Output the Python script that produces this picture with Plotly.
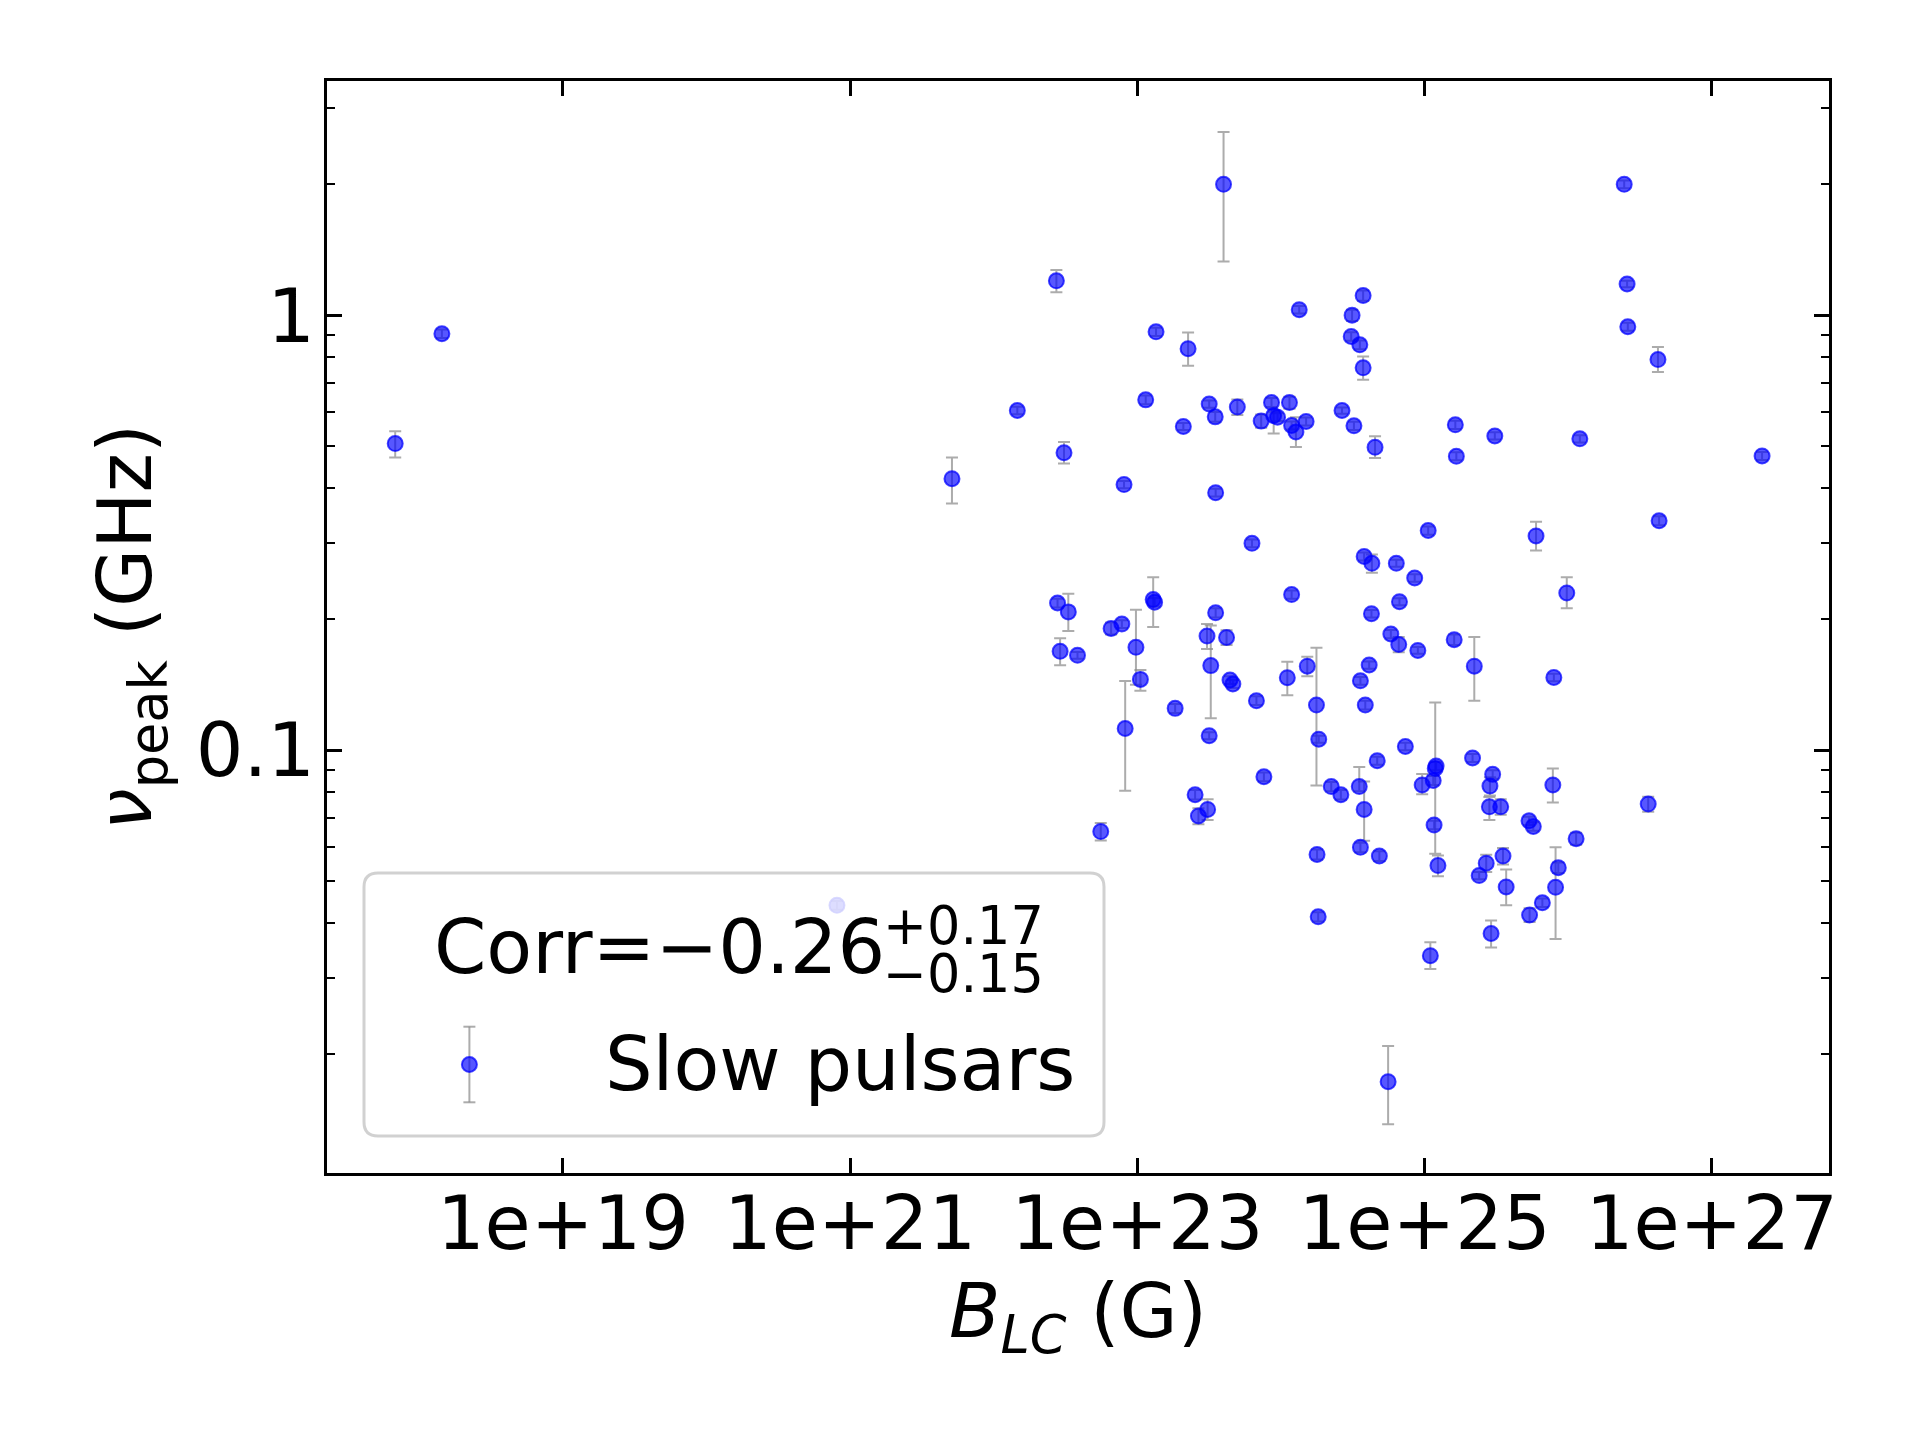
import numpy as np
import plotly.graph_objects as go

# ---------------- data ----------------
log_B_LC = [
    17.832, 18.157, 21.709, 20.908,
    23.60, 26.39, 22.436, 26.41, 24.572, 24.127, 24.495, 23.13, 23.353, 24.489,
    24.549, 24.572, 26.415, 26.625, 22.164, 23.058, 23.50, 23.542, 23.32, 23.696,
    23.934, 24.059, 23.862, 23.949, 23.976, 24.074, 24.104, 24.175, 24.425, 24.508,
    24.655, 25.214, 25.221, 25.489, 26.081, 27.35, 22.907, 23.545, 23.798, 25.025,
    25.776, 26.633, 22.489,
    24.579, 24.633, 24.803, 24.931, 24.074, 25.99, 22.444, 22.519, 23.11, 23.12,
    23.545, 24.63, 22.817, 22.892, 23.485, 23.511, 23.621, 22.99, 23.021, 22.462,
    22.583, 22.915, 22.745, 23.263, 23.50, 23.645, 23.665, 23.829, 24.044, 24.183,
    24.247, 24.263, 23.881, 24.553, 24.614, 24.587, 24.765, 24.82, 24.825, 24.953,
    25.206, 25.346, 25.90, 24.866, 24.67, 25.334, 25.474, 25.455, 25.451, 25.53,
    25.893, 25.074, 25.08, 25.06, 24.983, 25.066, 25.093, 25.04, 24.35, 24.417,
    24.545, 24.579, 24.553, 24.685, 24.251, 24.259, 24.746, 23.402, 23.425, 23.489,
    25.727, 25.757, 26.055, 26.557, 25.546, 25.429, 25.38, 25.568, 25.931, 25.912,
    25.82, 25.731, 25.463,
]

nu_peak_GHz = [
    0.507, 0.907, 0.421, 0.044,
    2.0, 2.0, 1.20, 1.18, 1.11, 1.03, 1.00, 0.916, 0.838, 0.894,
    0.855, 0.757, 0.941, 0.791, 0.604, 0.639, 0.625, 0.584, 0.555, 0.615,
    0.630, 0.630, 0.571, 0.588, 0.583, 0.558, 0.539, 0.570, 0.604, 0.557,
    0.497, 0.560, 0.474, 0.528, 0.520, 0.475, 0.408, 0.391, 0.299, 0.320,
    0.311, 0.337, 0.483,
    0.279, 0.269, 0.269, 0.249, 0.228, 0.230, 0.218, 0.208, 0.222, 0.219,
    0.207, 0.206, 0.1905, 0.195, 0.183, 0.1565, 0.1816, 0.1724, 0.1455, 0.1688,
    0.1653, 0.1122, 0.0650, 0.1248, 0.108, 0.145, 0.142, 0.130, 0.1468, 0.156,
    0.127, 0.106, 0.0869, 0.1444, 0.157, 0.127, 0.185, 0.175, 0.2195, 0.1696,
    0.1795, 0.156, 0.147, 0.102, 0.0946, 0.096, 0.088, 0.0827, 0.0741, 0.0741,
    0.0832, 0.0908, 0.0920, 0.0852, 0.0832, 0.0673, 0.0543, 0.0337, 0.0825, 0.079,
    0.0825, 0.0731, 0.0598, 0.0571, 0.0576, 0.0414, 0.0173, 0.079, 0.0706, 0.0731,
    0.0688, 0.0668, 0.0626, 0.0752, 0.0571, 0.055, 0.0515, 0.0485, 0.0537, 0.0484,
    0.0446, 0.0418, 0.0379,
]

err_plus = [
    0.034, 0.02, 0.05, 0.001,
    0.64, 0.04, 0.07, 0.02, 0.03, 0.02, 0.03, 0.02, 0.075, 0.02,
    0.02, 0.047, 0.02, 0.054, 0.012, 0.015, 0.012, 0.015, 0.01, 0.025,
    0.015, 0.02, 0.02, 0.012, 0.012, 0.012, 0.044, 0.012, 0.01, 0.012,
    0.03, 0.012, 0.01, 0.01, 0.01, 0.01, 0.008, 0.008, 0.006, 0.007,
    0.024, 0.008, 0.028,
    0.006, 0.013, 0.005, 0.005, 0.005, 0.02, 0.005, 0.021, 0.028, 0.005,
    0.005, 0.004, 0.006, 0.004, 0.012, 0.037, 0.007, 0.038, 0.0075, 0.012,
    0.003, 0.032, 0.003, 0.003, 0.002, 0.003, 0.003, 0.003, 0.013, 0.008,
    0.045, 0.002, 0.002, 0.003, 0.003, 0.003, 0.004, 0.007, 0.004, 0.003,
    0.005, 0.026, 0.003, 0.002, 0.002, 0.002, 0.002, 0.004, 0.004, 0.003,
    0.0076, 0.038, 0.002, 0.002, 0.005, 0.0015, 0.003, 0.0025, 0.002, 0.002,
    0.009, 0.0116, 0.0015, 0.0015, 0.0015, 0.001, 0.0036, 0.002, 0.003, 0.004,
    0.0015, 0.0015, 0.002, 0.003, 0.0025, 0.0025, 0.001, 0.0047, 0.0015, 0.0114,
    0.001, 0.0015, 0.0027,
]

err_minus = [
    0.036, 0.02, 0.052, 0.001,
    0.67, 0.04, 0.07, 0.02, 0.03, 0.02, 0.03, 0.02, 0.073, 0.02,
    0.02, 0.046, 0.02, 0.05, 0.012, 0.015, 0.012, 0.015, 0.01, 0.025,
    0.015, 0.02, 0.02, 0.053, 0.012, 0.012, 0.041, 0.012, 0.01, 0.012,
    0.027, 0.012, 0.01, 0.01, 0.01, 0.01, 0.008, 0.008, 0.006, 0.007,
    0.023, 0.008, 0.027,
    0.006, 0.013, 0.005, 0.005, 0.005, 0.018, 0.005, 0.02, 0.03, 0.005,
    0.005, 0.004, 0.006, 0.004, 0.012, 0.038, 0.007, 0.031, 0.0085, 0.012,
    0.003, 0.0315, 0.003, 0.003, 0.002, 0.003, 0.003, 0.003, 0.013, 0.008,
    0.044, 0.002, 0.002, 0.003, 0.003, 0.003, 0.004, 0.007, 0.004, 0.003,
    0.005, 0.026, 0.003, 0.002, 0.002, 0.002, 0.002, 0.004, 0.005, 0.003,
    0.0074, 0.033, 0.002, 0.002, 0.004, 0.0015, 0.003, 0.0023, 0.002, 0.002,
    0.002, 0.0112, 0.0015, 0.0015, 0.0015, 0.001, 0.0035, 0.002, 0.003, 0.004,
    0.0015, 0.0015, 0.002, 0.003, 0.0025, 0.0025, 0.001, 0.0045, 0.0015, 0.0116,
    0.001, 0.0015, 0.0027,
]

x_tick_vals = [1e19, 1e21, 1e23, 1e25, 1e27]
x_tick_text = ["1e+19", "1e+21", "1e+23", "1e+25", "1e+27"]
y_tick_vals = [0.1, 1]
y_tick_text = ["0.1", "1"]
y_minor_vals = [0.02, 0.03, 0.04, 0.05, 0.06, 0.07, 0.08, 0.09,
                0.2, 0.3, 0.4, 0.5, 0.6, 0.7, 0.8, 0.9, 2, 3]

corr_text = "Corr=\u22120.26"
corr_up = "+0.17"
corr_down = "\u22120.15"
series_name = "Slow pulsars"

# ---------------- figure ----------------
W, H = 1920, 1440
L, R, T, B = 327, 1829, 81, 1173
FONT = "DejaVu Sans"
FS = 75
MARK_FILL = "rgba(0,0,255,0.66)"
MARK_EDGE = "rgba(0,0,255,0.72)"
ERR_COL = "rgba(140,140,140,0.72)"

B_vals = 10 ** np.array(log_B_LC)

fig = go.Figure()
fig.add_trace(go.Scatter(
    x=B_vals, y=nu_peak_GHz, mode="markers", name=series_name,
    marker=dict(size=15, color=MARK_FILL, line=dict(color=MARK_EDGE, width=2)),
    error_y=dict(type="data", symmetric=False, array=err_plus,
                 arrayminus=err_minus, color=ERR_COL, thickness=2, width=6),
    showlegend=False,
))


def pxx(x):
    return (x - L) / (R - L)


def pyy(y):
    return (B - y) / (B - T)


# legend box (rounded, semi-transparent)
lx0, lx1, ly0, ly1, rad = 364, 1104, 873, 1136, 14
rx = rad / (R - L)
ry = rad / (B - T)
X0, X1, Y0, Y1 = pxx(lx0), pxx(lx1), pyy(ly1), pyy(ly0)
path = (f"M {X0+rx},{Y0} L {X1-rx},{Y0} Q {X1},{Y0} {X1},{Y0+ry} "
        f"L {X1},{Y1-ry} Q {X1},{Y1} {X1-rx},{Y1} "
        f"L {X0+rx},{Y1} Q {X0},{Y1} {X0},{Y1-ry} "
        f"L {X0},{Y0+ry} Q {X0},{Y0} {X0+rx},{Y0} Z")
shapes = [dict(type="path", path=path, xref="paper", yref="paper",
               fillcolor="rgba(255,255,255,0.8)",
               line=dict(color="rgba(204,204,204,0.9)", width=3),
               layer="above")]

# legend glyph: error bar + marker
gx, gy, gtop, gbot, cap = 469.4, 1064.5, 1026.7, 1102.3, 6
shapes.append(dict(type="line", xref="paper", yref="paper",
                   x0=pxx(gx), x1=pxx(gx), y0=pyy(gtop), y1=pyy(gbot),
                   line=dict(color=ERR_COL, width=2), layer="above"))
for yy in (gtop, gbot):
    shapes.append(dict(type="line", xref="paper", yref="paper",
                       x0=pxx(gx - cap), x1=pxx(gx + cap), y0=pyy(yy), y1=pyy(yy),
                       line=dict(color=ERR_COL, width=2), layer="above"))
rr = 7.5
shapes.append(dict(type="circle", xref="paper", yref="paper",
                   x0=pxx(gx - rr), x1=pxx(gx + rr), y0=pyy(gy + rr), y1=pyy(gy - rr),
                   fillcolor=MARK_FILL, line=dict(color=MARK_EDGE, width=2),
                   layer="above"))

asc = 0.346
annotations = [
    dict(text=corr_text, x=pxx(432), y=pyy(973.3 - asc * FS), xref="paper", yref="paper",
         xanchor="left", yanchor="middle", showarrow=False,
         font=dict(family=FONT, size=FS, color="black")),
    dict(text=corr_up, x=pxx(881), y=pyy(943.3 - asc * 52.5), xref="paper", yref="paper",
         xanchor="left", yanchor="middle", showarrow=False,
         font=dict(family=FONT, size=52.5, color="black")),
    dict(text=corr_down, x=pxx(881), y=pyy(991.7 - asc * 52.5), xref="paper", yref="paper",
         xanchor="left", yanchor="middle", showarrow=False,
         font=dict(family=FONT, size=52.5, color="black")),
    dict(text=series_name, x=pxx(602.5), y=pyy(1090 - asc * FS), xref="paper", yref="paper",
         xanchor="left", yanchor="middle", showarrow=False,
         font=dict(family=FONT, size=FS, color="black")),
]

axis_common = dict(
    showline=True, linecolor="black", linewidth=3, mirror="ticks",
    ticks="inside", tickcolor="black", tickwidth=2.5, ticklen=15,
    showgrid=False, zeroline=False,
    tickfont=dict(family=FONT, size=FS, color="black"),
)

fig.update_layout(
    width=W, height=H,
    margin=dict(l=L, r=W - R, t=T, b=H - B, autoexpand=False),
    paper_bgcolor="white", plot_bgcolor="white",
    xaxis=dict(type="log", range=[17.357, 27.816],
               tickmode="array", tickvals=x_tick_vals, ticktext=x_tick_text,
               ticklabelstandoff=-17,
               title=dict(text="<i>B</i><sub><i>LC</i></sub> (G)",
                          font=dict(family=FONT, size=FS, color="black"), standoff=11),
               **axis_common),
    yaxis=dict(type="log", range=[-1.972, 0.5386],
               tickmode="array", tickvals=y_tick_vals, ticktext=y_tick_text,
               ticklabelstandoff=-6,
               minor=dict(tickmode="array", tickvals=y_minor_vals, ticks="inside",
                          ticklen=8, tickwidth=2, tickcolor="black"),
               title=dict(text="<i>\u03bd</i><sub>peak</sub> (GHz)",
                          font=dict(family=FONT, size=FS, color="black"), standoff=20),
               **axis_common),
    shapes=shapes,
    annotations=annotations,
    showlegend=False,
)

fig.write_html("out.html")
